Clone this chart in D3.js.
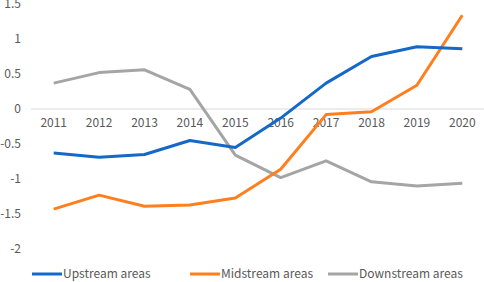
<!DOCTYPE html>
<html>
<head>
<meta charset="utf-8">
<script src="https://cdn.jsdelivr.net/npm/d3@7"></script>
<style>
  body { margin: 0; background: #fff; }
  text { font-family: "Noto Sans CJK SC", "Noto Sans", sans-serif; fill: #595959; }
</style>
</head>
<body>
<div id="wrapper"></div>
<script>
const years = ["2011","2012","2013","2014","2015","2016","2017","2018","2019","2020"]
const upstream = [-0.63,-0.69,-0.65,-0.45,-0.55,-0.13,0.37,0.75,0.89,0.86]
const midstream = [-1.43,-1.23,-1.39,-1.37,-1.27,-0.86,-0.08,-0.04,0.34,1.34]
const downstream = [0.37,0.52,0.56,0.28,-0.66,-0.98,-0.74,-1.04,-1.1,-1.06]
const seriesNames = ["Upstream areas","Midstream areas","Downstream areas"]
const seriesColors = ["#1469c8","#ff7f1e","#a5a5a5"]
const yTicks = [-2,-1.5,-1,-0.5,0,0.5,1,1.5]

const dimensions = { width: 484, height: 282 }

const svg = d3.select("#wrapper").append("svg")
    .attr("width", dimensions.width)
    .attr("height", dimensions.height)

// category scale for the years
const xScale = d3.scaleBand()
    .domain(years)
    .range([31, 485])

const yScale = d3.scaleLinear()
    .domain([-2, 1.5])
    .range([249, 4])

// y tick labels (no axis line)
svg.append("g").selectAll("text")
    .data(yTicks)
    .enter().append("text")
    .attr("x", 21)
    .attr("y", d => yScale(d))
    .attr("dy", "0.35em")
    .attr("text-anchor", "end")
    .attr("font-size", 12)
    .text(d => d)

// zero line
svg.append("line")
    .attr("x1", 31).attr("x2", 484)
    .attr("y1", yScale(0)).attr("y2", yScale(0))
    .attr("stroke", "#d9d9d9")
    .attr("stroke-width", 1)

// year labels sit just under the zero line
svg.append("g").selectAll("text")
    .data(years)
    .enter().append("text")
    .attr("x", d => xScale(d) + xScale.bandwidth() / 2)
    .attr("y", yScale(0) + 14)
    .attr("dy", "0.35em")
    .attr("text-anchor", "middle")
    .attr("font-size", 12)
    .text(d => d)

const lineGenerator = d3.line()
    .x((d, i) => xScale(years[i]) + xScale.bandwidth() / 2)
    .y(d => yScale(d))

const allSeries = [upstream, midstream, downstream]
// draw gray first, then orange, blue on top like the original
;[2, 1, 0].forEach(i => {
    svg.append("path")
        .attr("d", lineGenerator(allSeries[i]))
        .attr("fill", "none")
        .attr("stroke", seriesColors[i])
        .attr("stroke-width", 3)
        .attr("stroke-linejoin", "round")
})

// legend
const legendX = [32, 190, 328]
const legend = svg.append("g")
seriesNames.forEach((name, i) => {
    legend.append("line")
        .attr("x1", legendX[i]).attr("x2", legendX[i] + 30)
        .attr("y1", 274).attr("y2", 274)
        .attr("stroke", seriesColors[i])
        .attr("stroke-width", 3)
    legend.append("text")
        .attr("x", legendX[i] + 31)
        .attr("y", 274)
        .attr("dy", "0.35em")
        .attr("font-size", 12)
        .text(name)
})
</script>
</body>
</html>
